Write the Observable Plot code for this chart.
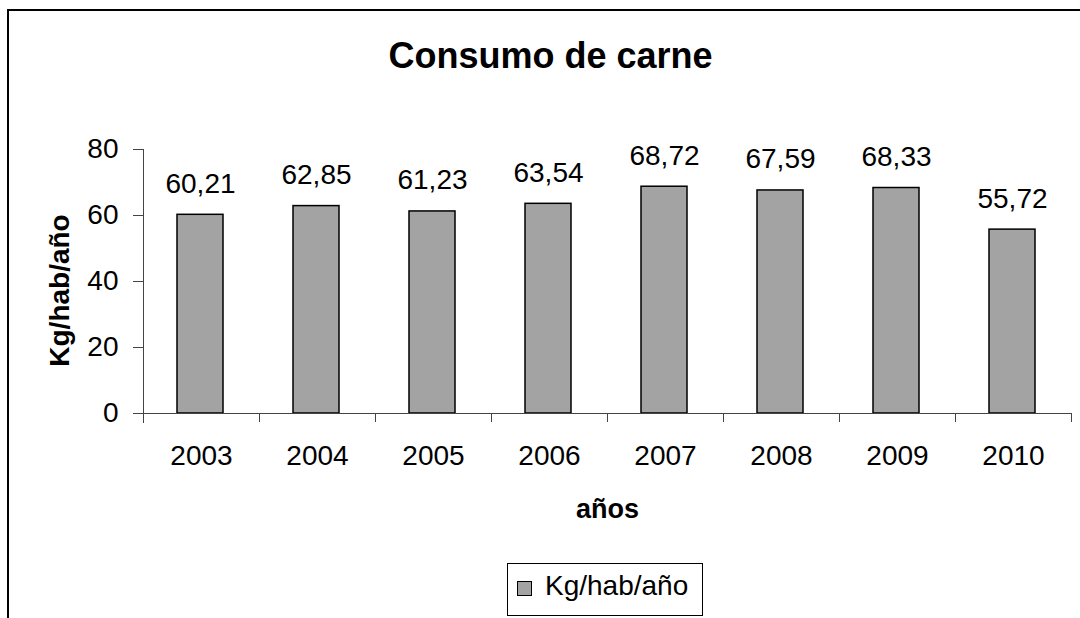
<!DOCTYPE html>
<html>
<head>
<meta charset="utf-8">
<script src="https://cdn.jsdelivr.net/npm/d3@7"></script>
<script src="https://cdn.jsdelivr.net/npm/@observablehq/plot@0.6"></script>
<style>
  html, body { margin: 0; padding: 0; background: #fff; }
  #wrap { position: relative; width: 1080px; height: 618px; overflow: hidden; font-family: "Liberation Sans", Arial, sans-serif; }
  #border { position: absolute; left: 7px; top: 9px; width: 1200px; height: 800px; border-left: 2px solid #000; border-top: 2px solid #000; pointer-events: none; }
  #legend { position: absolute; left: 507px; top: 563px; width: 194px; height: 51px; border: 1px solid #000; background: #fff; }
  #legend .sw { position: absolute; left: 9px; top: 17px; width: 13px; height: 13px; background: #a3a3a3; border: 1.5px solid #000; }
  #legend .lb { position: absolute; left: 37px; top: 6px; font-size: 28px; line-height: 32px; color: #000; white-space: nowrap; }
</style>
</head>
<body>
<div id="wrap">
  <div id="chart"></div>
  <div id="border"></div>
  <div id="legend"><div class="sw"></div><div class="lb">Kg/hab/año</div></div>
</div>
<script>
const years = ["2003", "2004", "2005", "2006", "2007", "2008", "2009", "2010"];
const values = [60.21, 62.85, 61.23, 63.54, 68.72, 67.59, 68.33, 55.72];
const yTicks = [0, 20, 40, 60, 80];
const title = "Consumo de carne";
const yLabel = "Kg/hab/año";
const xLabel = "años";

const data = years.map((year, i) => ({year, value: values[i]}));
const fmt = v => v.toFixed(2).replace(".", ",");
const axisColor = "#444";

const chart = Plot.plot({
  width: 1080,
  height: 618,
  marginLeft: 143,
  marginRight: 9,
  marginTop: 149,
  marginBottom: 205,
  style: {fontFamily: "'Liberation Sans', Arial, sans-serif", fontSize: "28px", color: "#000", background: "transparent"},
  x: {type: "band", domain: years, padding: 0},
  y: {domain: [0, 80]},
  marks: [
    Plot.barY(data, {x: "year", y: "value", fill: "#a3a3a3", stroke: "#000", strokeWidth: 1.5, insetLeft: 34, insetRight: 36}),
    Plot.ruleY([0], {stroke: axisColor, strokeWidth: 1}),
    Plot.ruleX([years[0]], {x: d => d, dx: -58, y1: 80, y2: 0, insetBottom: -10, stroke: axisColor, strokeWidth: 1}),
    Plot.ruleX(years, {x: d => d, dx: 58, y1: 0, y2: 0, insetBottom: -9, stroke: axisColor, strokeWidth: 1}),
    Plot.axisY({ticks: yTicks, tickSize: 10, tickPadding: 15, stroke: axisColor, label: null, fontSize: 28, fill: "#000"}),
    Plot.axisX({tickSize: 0, tickPadding: 32, label: null, fontSize: 28, fill: "#000"}),
    Plot.text(data, {x: "year", y: "value", text: d => fmt(d.value), lineAnchor: "bottom", dy: -22, dx: -1, fontSize: 28, fill: "#000"}),
    Plot.text([title], {frameAnchor: "top-left", textAnchor: "middle", dx: 407, dy: -82, lineAnchor: "bottom", fontSize: 36, fontWeight: "bold", fill: "#000"}),
    Plot.text([xLabel], {frameAnchor: "bottom", textAnchor: "middle", dy: 104, lineAnchor: "bottom", fontSize: 27, fontWeight: "bold", fill: "#000"}),
    Plot.text([yLabel], {frameAnchor: "left", textAnchor: "middle", dx: -75, dy: 9, rotate: -90, lineAnchor: "bottom", fontSize: 28, fontWeight: "bold", fill: "#000"})
  ]
});
document.getElementById("chart").appendChild(chart);
</script>
</body>
</html>
